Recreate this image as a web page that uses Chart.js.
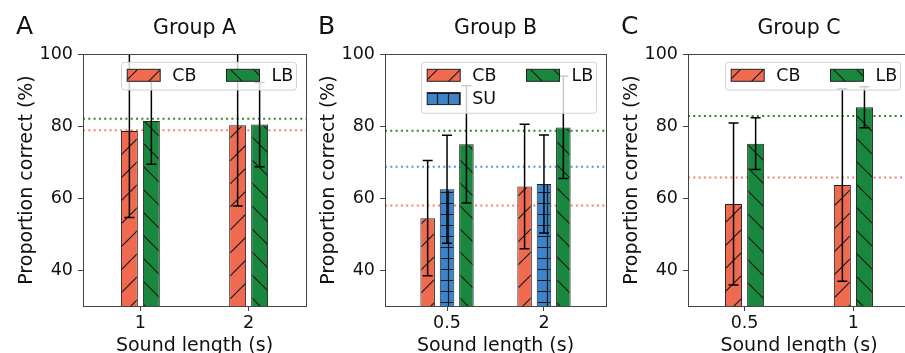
<!DOCTYPE html>
<html>
<head>
<meta charset="utf-8">
<script src="https://cdn.jsdelivr.net/npm/chart.js@4.4.0/dist/chart.umd.min.js"></script>
<style>
  html, body { margin: 0; padding: 0; background: #fff; overflow: hidden; width: 905px; height: 353px; }
  canvas { position: absolute; top: 0; }
</style>
</head>
<body>
<canvas id="panelA" width="310" height="353" style="left:0px"></canvas>
<canvas id="panelB" width="310" height="353" style="left:300px"></canvas>
<canvas id="panelC" width="310" height="353" style="left:603px"></canvas>
<script>
// tick values shared by all panels
const yTicks = [40, 60, 80, 100];

// Group A
const groupALabels = ["1", "2"];
const groupACB = [78.6, 80.2];
const groupACBErr = [24, 22.4];
const groupALB = [81.4, 80.4];
const groupALBErr = [12, 11.7];
const groupARef = { CB: 78.8, LB: 82 };

// Group B
const groupBLabels = ["0.5", "2"];
const groupBCB = [54.4, 63.2];
const groupBCBErr = [16, 17.3];
const groupBSU = [62.4, 63.9];
const groupBSUErr = [15, 13.6];
const groupBLB = [74.9, 79.6];
const groupBLBErr = [16.3, 14.2];
const groupBRef = { CB: 57.9, SU: 68.7, LB: 78.7 };

// Group C
const groupCLabels = ["0.5", "1"];
const groupCCB = [58.3, 63.6];
const groupCCBErr = [22.5, 26.7];
const groupCLB = [75.1, 85.2];
const groupCLBErr = [7.2, 5.7];
const groupCRef = { CB: 65.7, LB: 82.8 };

const FONT = "DejaVu Sans";
const colors = { CB: "#ef6a4e", LB: "#1a873f", SU: "#3d83c9" };
const refColors = { CB: "#f4826c", LB: "#2a8a2e", SU: "#4a9ee0" };

function hatch(fill, kind) {
  const s = kind === "+" ? 11 : 23;
  const c = document.createElement("canvas");
  c.width = s; c.height = s;
  const g = c.getContext("2d");
  g.fillStyle = fill;
  g.fillRect(0, 0, s, s);
  g.strokeStyle = "#1a1a1a";
  g.lineWidth = 1.2;
  g.beginPath();
  if (kind === "+") {
    g.moveTo(0, 5.5); g.lineTo(s, 5.5);
    g.moveTo(5.5, 0); g.lineTo(5.5, s);
  } else {
    for (let k = -1; k <= 1; k++) {
      if (kind === "/") { g.moveTo(k * s, s); g.lineTo(k * s + s, 0); }
      else { g.moveTo(k * s, 0); g.lineTo(k * s + s, s); }
    }
  }
  g.stroke();
  return g.createPattern(c, "repeat");
}

const hatchKind = { CB: "/", LB: "\\", SU: "+" };

const panelPlugin = {
  id: "panelExtras",
  beforeDatasetsDraw(chart) {
    const { ctx, chartArea: a, scales } = chart;
    const refs = chart.options.plugins.panelExtras.refs;
    ctx.save();
    ctx.beginPath();
    ctx.rect(a.left, a.top, a.right - a.left, a.bottom - a.top);
    ctx.clip();
    ctx.lineWidth = 2;
    ctx.setLineDash([2, 3.3]);
    for (const key of Object.keys(refs)) {
      const y = scales.y.getPixelForValue(refs[key]);
      ctx.strokeStyle = refColors[key];
      ctx.beginPath();
      ctx.moveTo(a.left, y);
      ctx.lineTo(a.right, y);
      ctx.stroke();
    }
    ctx.restore();
  },
  afterDatasetsDraw(chart) {
    const { ctx, chartArea: a, scales } = chart;

    // error bars
    ctx.save();
    ctx.beginPath();
    ctx.rect(a.left, a.top, a.right - a.left, a.bottom - a.top);
    ctx.clip();
    ctx.strokeStyle = "#000";
    ctx.lineWidth = 1.5;
    chart.data.datasets.forEach((ds, i) => {
      const meta = chart.getDatasetMeta(i);
      meta.data.forEach((bar, j) => {
        const v = ds.data[j].y, e = ds.errors[j];
        const y1 = scales.y.getPixelForValue(v - e);
        const y2 = scales.y.getPixelForValue(v + e);
        ctx.beginPath();
        ctx.moveTo(bar.x, y1); ctx.lineTo(bar.x, y2);
        ctx.moveTo(bar.x - 5, y1); ctx.lineTo(bar.x + 5, y1);
        ctx.moveTo(bar.x - 5, y2); ctx.lineTo(bar.x + 5, y2);
        ctx.stroke();
      });
    });
    ctx.restore();

    // frame
    ctx.save();
    ctx.strokeStyle = "#444";
    ctx.lineWidth = 1;
    ctx.strokeRect(Math.round(a.left) + 0.5, Math.round(a.top) + 0.5,
      Math.round(a.right - a.left), Math.round(a.bottom - a.top));
    ctx.restore();

    // legend, two columns filled column by column
    const ds = chart.data.datasets;
    const rows = Math.ceil(ds.length / 2);
    const bw = 175, bh = rows * 23.3 + 4.4;
    const bx = a.right - 9.5 - bw, by = a.top + 8.3;
    ctx.save();
    ctx.fillStyle = "rgba(255,255,255,0.8)";
    ctx.strokeStyle = "#d0d0d0";
    ctx.lineWidth = 1;
    ctx.beginPath();
    ctx.roundRect(bx, by, bw, bh, 3);
    ctx.fill();
    ctx.stroke();
    ctx.font = "17.5px '" + FONT + "'";
    ctx.textBaseline = "middle";
    ctx.textAlign = "left";
    ds.forEach((d, i) => {
      const col = Math.floor(i / rows), row = i % rows;
      const hx = bx + 5.7 + col * 99.3;
      const cy = by + 13 + row * 23.3;
      ctx.fillStyle = d.backgroundColor;
      ctx.fillRect(hx, cy - 6, 33, 12);
      ctx.strokeStyle = "#222";
      ctx.strokeRect(hx, cy - 6, 33, 12);
      ctx.fillStyle = "#111";
      ctx.fillText(d.label, hx + 45, cy + 1);
    });
    ctx.restore();
  },
  afterDraw(chart) {
    const { ctx, chartArea: a } = chart;
    const opts = chart.options.plugins.panelExtras;
    const cx = (a.left + a.right) / 2;
    ctx.save();
    ctx.fillStyle = "#111";
    ctx.textBaseline = "alphabetic";
    ctx.font = "25px '" + FONT + "'";
    ctx.textAlign = "left";
    ctx.fillText(opts.letter, a.left - 67, 34);
    ctx.font = "20.5px '" + FONT + "'";
    ctx.textAlign = "center";
    ctx.fillText(opts.title, cx, 33.5);
    ctx.font = "19px '" + FONT + "'";
    ctx.fillText("Sound length (s)", cx, 351);
    ctx.translate(a.left - 51.5, (a.top + a.bottom) / 2);
    ctx.rotate(-Math.PI / 2);
    ctx.fillText("Proportion correct (%)", 0, 0);
    ctx.restore();
  }
};

function makePanel(id, p) {
  const datasets = p.series.map(s => ({
    label: s.key,
    // bars sit at the category index on a linear axis
    data: s.data.map((v, i) => ({ x: i, y: v })),
    errors: s.err,
    backgroundColor: hatch(colors[s.key], hatchKind[s.key]),
    borderColor: "#222",
    borderWidth: 1,
    barPercentage: p.barPct,
    categoryPercentage: p.catPct
  }));
  const tickFont = { family: FONT, size: 17.5 };
  return new Chart(document.getElementById(id), {
    type: "bar",
    data: { datasets },
    options: {
      responsive: false,
      animation: false,
      layout: { padding: { left: 0, right: p.padRight, top: 54, bottom: 0 } },
      plugins: {
        legend: { display: false },
        tooltip: { enabled: false },
        panelExtras: { letter: p.letter, title: p.title, refs: p.refs }
      },
      scales: {
        x: {
          type: "linear",
          min: -p.xPad,
          max: p.labels.length - 1 + p.xPad,
          offset: false,
          afterBuildTicks: s => { s.ticks = p.labels.map((_, i) => ({ value: i })); },
          grid: { display: true, drawOnChartArea: false, drawTicks: true, tickLength: 5, tickColor: "#444", offset: false },
          border: { display: false },
          ticks: { color: "#111", font: tickFont, padding: 2, maxRotation: 0, callback: v => p.labels[v] },
          afterFit: s => { s.height = 47; }
        },
        y: {
          min: 30,
          max: 100,
          afterBuildTicks: s => { s.ticks = yTicks.map(v => ({ value: v })); },
          grid: { display: true, drawOnChartArea: false, drawTicks: true, tickLength: 5, tickColor: "#444" },
          border: { display: false },
          ticks: { color: "#111", font: tickFont, padding: 5 },
          afterFit: s => { s.width = p.axisWidth; }
        }
      }
    },
    plugins: [panelPlugin]
  });
}

makePanel("panelA", {
  letter: "A", title: "Group A", labels: groupALabels,
  series: [
    { key: "CB", data: groupACB, err: groupACBErr },
    { key: "LB", data: groupALB, err: groupALBErr }
  ],
  refs: groupARef, axisWidth: 83, padRight: 4, xPad: 0.53, barPct: 0.77, catPct: 0.406
});

makePanel("panelB", {
  letter: "B", title: "Group B", labels: groupBLabels,
  series: [
    { key: "CB", data: groupBCB, err: groupBCBErr },
    { key: "SU", data: groupBSU, err: groupBSUErr },
    { key: "LB", data: groupBLB, err: groupBLBErr }
  ],
  refs: groupBRef, axisWidth: 85, padRight: 4, xPad: 0.64, barPct: 0.75, catPct: 0.6
});

makePanel("panelC", {
  letter: "C", title: "Group C", labels: groupCLabels,
  series: [
    { key: "CB", data: groupCCB, err: groupCCBErr },
    { key: "LB", data: groupCLB, err: groupCLBErr }
  ],
  refs: groupCRef, axisWidth: 85, padRight: 3, xPad: 0.52, barPct: 0.77, catPct: 0.406
});
</script>
</body>
</html>
